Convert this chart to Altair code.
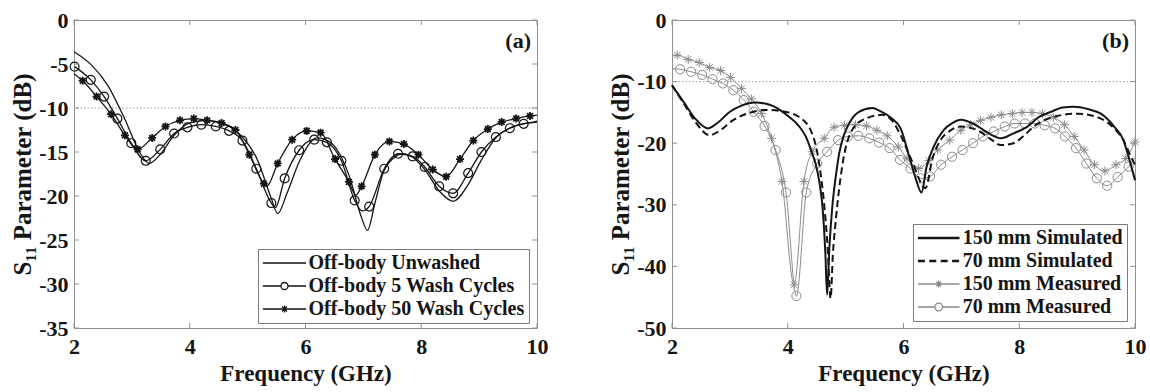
import altair as alt
import pandas as pd

# ---------------- Panel (a): off-body wash test ----------------
a_names = ["Off-body Unwashed", "Off-body 5 Wash Cycles", "Off-body 50 Wash Cycles"]

unwashed_freq = [2.0, 2.3, 2.58, 2.86, 3.15, 3.3, 3.5, 3.73, 4.0, 4.3, 4.59, 4.88, 5.17, 5.4, 5.52,
                 5.68, 5.9, 6.2, 6.45, 6.62, 6.76, 6.96, 7.07, 7.2, 7.34, 7.52, 7.68, 7.85, 8.06, 8.32,
                 8.55, 8.81, 9.04, 9.3, 9.59, 9.93, 10.0]
unwashed_s11 = [-3.6, -5.1, -7.4, -11.0, -15.2, -16.3, -15.2, -13.1, -11.7, -11.4, -11.8, -13.1, -15.9,
                -20.1, -22.0, -19.7, -16.0, -13.4, -14.0, -15.6, -17.8, -22.3, -23.9, -20.8, -17.4, -15.7,
                -15.2, -15.6, -17.0, -19.5, -20.6, -18.7, -15.9, -13.3, -12.1, -11.6, -11.5]

wash5_freq = [2.01, 2.29, 2.52, 2.75, 2.99, 3.24, 3.49, 3.73, 3.96, 4.20, 4.45, 4.68, 4.91, 5.15, 5.41,
              5.64, 5.89, 6.15, 6.37, 6.62, 6.85, 7.10, 7.36, 7.60, 7.85, 8.06, 8.31, 8.55, 8.81, 9.04,
              9.29, 9.53, 9.77]
wash5_s11 = [-5.3, -6.8, -8.7, -11.2, -14.0, -16.0, -14.7, -12.9, -12.2, -11.9, -12.1, -12.6, -13.7, -16.9,
             -20.8, -18.0, -14.8, -13.6, -13.9, -16.0, -20.5, -21.2, -16.9, -15.2, -15.5, -16.7, -18.9,
             -19.7, -17.4, -15.0, -13.3, -12.3, -11.8]
wash5_extra_freq = [5.48, 6.98, 10.0]
wash5_extra_s11 = [-21.3, -21.7, -11.6]

wash50_freq = [2.15, 2.39, 2.64, 2.88, 3.10, 3.35, 3.58, 3.83, 4.07, 4.30, 4.55, 4.79, 5.03, 5.28, 5.52,
               5.77, 6.02, 6.26, 6.51, 6.75, 6.97, 7.20, 7.45, 7.70, 7.95, 8.20, 8.43, 8.67, 8.90, 9.15,
               9.39, 9.64, 9.88]
wash50_s11 = [-6.9, -8.7, -10.7, -13.1, -14.7, -13.4, -12.1, -11.4, -11.2, -11.4, -11.7, -12.5, -15.3,
              -18.6, -16.3, -13.6, -12.6, -12.8, -15.8, -18.4, -18.9, -15.3, -13.8, -14.1, -15.3, -17.0,
              -17.8, -15.8, -13.7, -12.4, -11.6, -11.2, -10.9]
wash50_extra_freq = [2.0, 5.33, 6.87, 10.0]
wash50_extra_s11 = [-6.1, -18.9, -19.9, -10.8]

# ---------------- Panel (b): simulated vs measured ----------------
b_names = ["150 mm Simulated", "70 mm Simulated", "150 mm Measured", "70 mm Measured"]

sim150_freq = [2.0, 2.2, 2.4, 2.62, 2.8, 3.0, 3.2, 3.44, 3.7, 4.02, 4.2, 4.31, 4.42, 4.48, 4.55, 4.60,
               4.65, 4.68, 4.72, 4.77, 4.83, 4.89, 4.97, 5.06, 5.23, 5.46, 5.6, 5.8, 5.95, 6.1, 6.2, 6.31,
               6.4, 6.52, 6.69, 6.85, 6.99, 7.2, 7.39, 7.6, 7.68, 7.9, 8.14, 8.35, 8.55, 8.75, 8.94, 9.2,
               9.41, 9.64, 9.8, 9.87, 10.0]
sim150_s11 = [-10.6, -13.3, -16.0, -17.6, -16.6, -14.9, -13.9, -13.4, -13.8, -15.7, -17.3, -18.9, -21.6,
              -23.3, -26.5, -30.3, -37.9, -44.6, -36.8, -30.3, -25.4, -21.6, -18.7, -16.8, -14.9, -14.3,
              -14.8, -16.0, -17.6, -22.2, -25.4, -28.0, -23.8, -20.6, -17.9, -16.7, -16.2, -16.8, -17.9,
              -19.0, -19.2, -18.4, -17.3, -15.7, -14.9, -14.2, -14.1, -14.5, -15.2, -17.3, -19.5, -21.6,
              -26.0]

sim70_freq = [2.0, 2.2, 2.4, 2.65, 2.85, 3.05, 3.3, 3.62, 3.9, 4.19, 4.42, 4.56, 4.63, 4.69, 4.74, 4.78,
              4.83, 4.94, 5.11, 5.35, 5.64, 5.8, 5.95, 6.15, 6.38, 6.5, 6.64, 6.8, 6.99, 7.28, 7.5, 7.68,
              7.9, 8.1, 8.25, 8.6, 9.01, 9.41, 9.64, 9.8, 9.93, 10.0]
sim70_s11 = [-10.6, -13.5, -16.5, -18.7, -17.8, -16.3, -15.2, -14.6, -14.8, -15.7, -18.4, -24.4, -30.0,
             -37.0, -45.2, -38.0, -32.5, -23.8, -17.9, -16.0, -15.4, -16.3, -18.7, -23.0, -27.3, -22.5,
             -19.5, -18.0, -17.3, -17.9, -19.3, -20.3, -20.0, -18.6, -17.3, -15.7, -15.2, -16.0, -17.6,
             -19.5, -22.2, -23.5]

meas150_freq = [2.09, 2.28, 2.47, 2.65, 2.84, 3.01, 3.20, 3.37, 3.55, 3.72, 3.90, 4.11, 4.28, 4.42, 4.63,
                4.80, 4.98, 5.17, 5.36, 5.54, 5.72, 5.91, 6.06, 6.26, 6.44, 6.59, 6.80, 6.99, 7.16, 7.33,
                7.51, 7.69, 7.88, 8.05, 8.22, 8.40, 8.59, 8.78, 8.95, 9.12, 9.30, 9.48, 9.67, 9.84, 10.0]
meas150_s11 = [-5.7, -6.4, -6.9, -7.7, -8.2, -9.3, -11.1, -12.8, -15.2, -19.2, -26.2, -43.0, -26.2, -21.4,
               -19.2, -17.4, -17.1, -17.0, -17.2, -17.9, -18.8, -20.6, -22.5, -24.1, -22.8, -21.1, -19.5,
               -17.9, -17.0, -16.3, -15.8, -15.4, -15.2, -15.0, -15.0, -15.2, -15.8, -17.0, -18.9, -21.1,
               -23.5, -24.5, -23.5, -22.5, -19.8]
meas150_extra_freq = [2.0]
meas150_extra_s11 = [-5.9]

meas70_freq = [2.14, 2.33, 2.52, 2.70, 2.88, 3.06, 3.24, 3.41, 3.60, 3.79, 3.97, 4.15, 4.32, 4.51, 4.68,
               4.87, 5.04, 5.22, 5.41, 5.58, 5.76, 5.94, 6.12, 6.29, 6.46, 6.65, 6.84, 7.02, 7.20, 7.37,
               7.56, 7.75, 7.92, 8.10, 8.27, 8.44, 8.62, 8.79, 8.98, 9.16, 9.34, 9.52, 9.70, 9.89]
meas70_s11 = [-8.0, -8.4, -8.9, -9.6, -10.3, -11.4, -13.0, -14.9, -17.2, -21.1, -28.0, -44.8, -28.0, -23.3,
              -21.4, -19.5, -18.9, -18.8, -19.2, -19.9, -20.8, -22.7, -24.1, -25.7, -25.4, -23.5, -22.2,
              -21.1, -20.0, -18.9, -18.1, -17.3, -16.8, -16.8, -16.8, -17.1, -17.6, -18.9, -20.8, -23.3,
              -25.7, -26.9, -25.5, -23.8]
meas70_extra_freq = [2.0, 10.0]
meas70_extra_s11 = [-7.9, -22.3]

# ---------------- Axes / annotations ----------------
freq_ticks = [2, 4, 6, 8, 10]
a_s11_ticks = [0, -5, -10, -15, -20, -25, -30, -35]
b_s11_ticks = [0, -10, -20, -30, -40, -50]
threshold_db = [-10]
panel_labels = ["(a)", "(b)"]
x_title = "Frequency (GHz)"
y_title = "S\u2081\u2081 Parameter  (dB)"

# ---------------- Styling ----------------
FONT = "Liberation Serif"
W, H = 463, 308
FRAME = "#909090"
INK = "#151515"
GREY = "#8a8a8a"
TICK = 5

ASTER = "M-1,0L1,0M0,-1L0,1M-0.72,-0.72L0.72,0.72M-0.72,0.72L0.72,-0.72"


def df_of(freq, s11):
    return pd.DataFrame({"freq": freq, "s11": s11})


def line_df(freq, s11, xf=(), xs=()):
    d = pd.DataFrame({"freq": list(freq) + list(xf), "s11": list(s11) + list(xs)})
    return d.sort_values("freq").reset_index(drop=True)


def enc_x():
    return alt.X("freq:Q", scale=alt.Scale(domain=[2, 10], nice=False, zero=False),
                 axis=alt.Axis(values=freq_ticks, title=x_title, labelExpr="'' + datum.value",
                               labelPadding=8, titlePadding=5, titleFontSize=23))


def enc_y(domain, ticks):
    return alt.Y("s11:Q", scale=alt.Scale(domain=domain, nice=False, zero=False),
                 axis=alt.Axis(values=ticks, title=y_title, labelExpr="'' + datum.value",
                               labelPadding=6, titlePadding=3, titleFontSize=25))


def frame_ticks(domain, ticks):
    X, Y = enc_x(), enc_y(domain, ticks)
    xt = pd.DataFrame({"freq": freq_ticks})
    yt = pd.DataFrame({"s11": ticks})
    base = dict(color=FRAME, strokeWidth=1)
    return [
        alt.Chart(xt).mark_rule(**base).encode(x=X, y=alt.value(H), y2=alt.value(H - TICK)),
        alt.Chart(xt).mark_rule(**base).encode(x=X, y=alt.value(0), y2=alt.value(TICK)),
        alt.Chart(yt).mark_rule(**base).encode(y=Y, x=alt.value(0), x2=alt.value(TICK)),
        alt.Chart(yt).mark_rule(**base).encode(y=Y, x=alt.value(W), x2=alt.value(W - TICK)),
    ]


def legend_layer(names, colors, paths, lx, ly, sym_offset, lab_offset):
    leg = alt.Legend(title=None, orient="none", legendX=lx, legendY=ly, fillColor="white",
                     strokeColor="#7a7a7a", padding=4, symbolSize=64, symbolStrokeWidth=1.3,
                     symbolOffset=sym_offset, labelOffset=lab_offset, rowPadding=3,
                     labelFont=FONT, labelFontSize=20, labelFontWeight="bold", labelColor=INK,
                     labelLimit=400, cornerRadius=0)
    return (alt.Chart(pd.DataFrame({"series": names}))
            .transform_filter("false")
            .mark_point(filled=False, opacity=1)
            .encode(color=alt.Color("series:N", scale=alt.Scale(domain=names, range=colors), legend=leg),
                    shape=alt.Shape("series:N", scale=alt.Scale(domain=names, range=paths), legend=leg)))


def common(domain, ticks, label):
    X, Y = enc_x(), enc_y(domain, ticks)
    thr = alt.Chart(pd.DataFrame({"s11": threshold_db})).mark_rule(
        color="#9a9a9a", strokeWidth=1, strokeDash=[1.5, 2]).encode(y=Y)
    txt = alt.Chart(pd.DataFrame({"label": [label]})).mark_text(
        font=FONT, fontSize=22, fontWeight="bold", color=INK, align="right", baseline="top"
    ).encode(x=alt.value(W - 6), y=alt.value(11), text="label:N")
    return X, Y, thr, txt


# ---------- Panel (a) ----------
a_dom = [-35, 0]
Xa, Ya, thr_a, txt_a = common(a_dom, a_s11_ticks, panel_labels[0])
la = dict(color=INK, strokeWidth=1.3, interpolate="monotone")
a_layers = [
    thr_a,
    alt.Chart(line_df(unwashed_freq, unwashed_s11)).mark_line(**la).encode(x=Xa, y=Ya),
    alt.Chart(line_df(wash5_freq, wash5_s11, wash5_extra_freq, wash5_extra_s11)).mark_line(**la).encode(x=Xa, y=Ya),
    alt.Chart(line_df(wash50_freq, wash50_s11, wash50_extra_freq, wash50_extra_s11)).mark_line(**la).encode(x=Xa, y=Ya),
    alt.Chart(df_of(wash5_freq, wash5_s11)).mark_point(
        shape="circle", size=80, filled=False, color=INK, strokeWidth=1.2, opacity=1).encode(x=Xa, y=Ya),
    alt.Chart(df_of(wash50_freq, wash50_s11)).mark_point(
        shape=ASTER, size=64, filled=False, color=INK, strokeWidth=1.8, opacity=1).encode(x=Xa, y=Ya),
    txt_a,
] + frame_ticks(a_dom, a_s11_ticks) + [
    legend_layer(
        a_names, [INK, INK, INK],
        ["M-5.4,0L5.4,0",
         "M-5.4,0L-0.875,0M0.875,0L5.4,0M-0.875,0A0.875,0.875,0,1,1,0.875,0A0.875,0.875,0,1,1,-0.875,0",
         "M-5.4,0L5.4,0M0,-0.875L0,0.875M-0.62,-0.62L0.62,0.62M-0.62,0.62L0.62,-0.62"],
        184, 229, 12.5, 14)
]
panel_a = alt.layer(*a_layers).properties(width=W, height=H)

# ---------- Panel (b) ----------
b_dom = [-50, 0]
Xb, Yb, thr_b, txt_b = common(b_dom, b_s11_ticks, panel_labels[1])
b_layers = [
    thr_b,
    alt.Chart(line_df(meas150_freq, meas150_s11, meas150_extra_freq, meas150_extra_s11)).mark_line(
        color=GREY, strokeWidth=1.0, interpolate="monotone").encode(x=Xb, y=Yb),
    alt.Chart(line_df(meas70_freq, meas70_s11, meas70_extra_freq, meas70_extra_s11)).mark_line(
        color=GREY, strokeWidth=1.0, interpolate="monotone").encode(x=Xb, y=Yb),
    alt.Chart(df_of(meas150_freq, meas150_s11)).mark_point(
        shape=ASTER, size=81, filled=False, color=GREY, strokeWidth=1.0, opacity=1).encode(x=Xb, y=Yb),
    alt.Chart(df_of(meas70_freq, meas70_s11)).mark_point(
        shape="circle", size=85, filled=False, color=GREY, strokeWidth=1.0, opacity=1).encode(x=Xb, y=Yb),
    alt.Chart(line_df(sim150_freq, sim150_s11)).mark_line(
        color=INK, strokeWidth=2.0, interpolate="monotone").encode(x=Xb, y=Yb),
    alt.Chart(line_df(sim70_freq, sim70_s11)).mark_line(
        color=INK, strokeWidth=2.0, strokeDash=[7, 4], interpolate="monotone").encode(x=Xb, y=Yb),
    txt_b,
] + frame_ticks(b_dom, b_s11_ticks) + [
    legend_layer(
        b_names, [INK, INK, GREY, GREY],
        ["M-5.2,-0.12L5.2,-0.12M-5.2,0.12L5.2,0.12",
         "M-5.2,-0.12L-3.45,-0.12M-2.35,-0.12L-0.6,-0.12M0.5,-0.12L2.25,-0.12M3.35,-0.12L5.1,-0.12"
         "M-5.2,0.12L-3.45,0.12M-2.35,0.12L-0.6,0.12M0.5,0.12L2.25,0.12M3.35,0.12L5.1,0.12",
         "M-5.2,0L5.2,0M0,-0.85L0,0.85M-0.6,-0.6L0.6,0.6M-0.6,0.6L0.6,-0.6",
         "M-5.2,0L-0.95,0M0.95,0L5.2,0M-0.95,0A0.95,0.95,0,1,1,0.95,0A0.95,0.95,0,1,1,-0.95,0"],
        241, 204, 11.7, 14)
]
panel_b = alt.layer(*b_layers).properties(width=W, height=H)

chart = (
    alt.hconcat(panel_a, panel_b, spacing=59)
    .resolve_scale(color="independent", shape="independent")
    .properties(padding={"left": 10, "top": 8, "right": 3, "bottom": 0}, background="white")
    .configure_view(stroke=FRAME, strokeWidth=1)
    .configure_axis(labelFont=FONT, labelFontSize=22, labelFontWeight="bold", labelColor=INK,
                    titleFont=FONT, titleFontSize=23, titleFontWeight="bold", titleColor=INK,
                    grid=False, ticks=False, tickSize=0, domain=False, labelFlush=False,
                    labelOverlap=False)
)

chart.save("out.html", embed_options={"renderer": "svg", "actions": False})
